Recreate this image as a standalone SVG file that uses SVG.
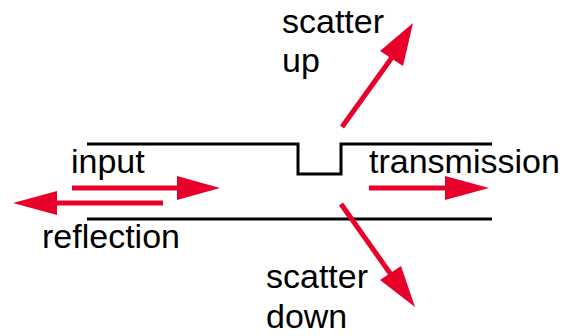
<svg xmlns="http://www.w3.org/2000/svg" width="570" height="336" viewBox="0 0 570 336">
<style>
.lbl{font-family:"Liberation Sans",Arial,sans-serif;font-size:34px;fill:#000}
.wg{fill:none;stroke:#000;stroke-width:3}
.ar{stroke:#e8002a;stroke-width:5;fill:none}
.hd{fill:#e8002a}
</style>
<g id="waveguide">
<path class="wg" d="M87,144 H298 V174 H341 V144 H492"/>
<path class="wg" d="M87,219 H492"/>
</g>
<g id="connectors">
<g id="input-arrow"><line class="ar" x1="72" y1="188" x2="180" y2="188"/><polygon class="hd" points="220,188 177,176 177,200"/></g>
<g id="reflection-arrow"><line class="ar" x1="163" y1="203" x2="55" y2="203"/><polygon class="hd" points="13,203 57,191 57,215"/></g>
<g id="transmission-arrow"><line class="ar" x1="369" y1="188" x2="448" y2="188"/><polygon class="hd" points="489,188 445,176 445,200"/></g>
<g id="scatter-up-arrow"><line class="ar" x1="342" y1="127" x2="393" y2="56"/><polygon class="hd" points="413,23 380,51 403,66"/></g>
<g id="scatter-down-arrow"><line class="ar" x1="341" y1="204" x2="392" y2="276"/><polygon class="hd" points="415,307 380,280 401,266"/></g>
</g>
<g id="input"><text class="lbl" x="71" y="173">input</text></g>
<g id="reflection"><text class="lbl" x="42" y="248">reflection</text></g>
<g id="transmission"><text class="lbl" x="369" y="173">transmission</text></g>
<g id="scatter-up"><text class="lbl" x="282" y="33">scatter</text><text class="lbl" x="282" y="72">up</text></g>
<g id="scatter-down"><text class="lbl" x="266" y="288">scatter</text><text class="lbl" x="266" y="328">down</text></g>
</svg>
